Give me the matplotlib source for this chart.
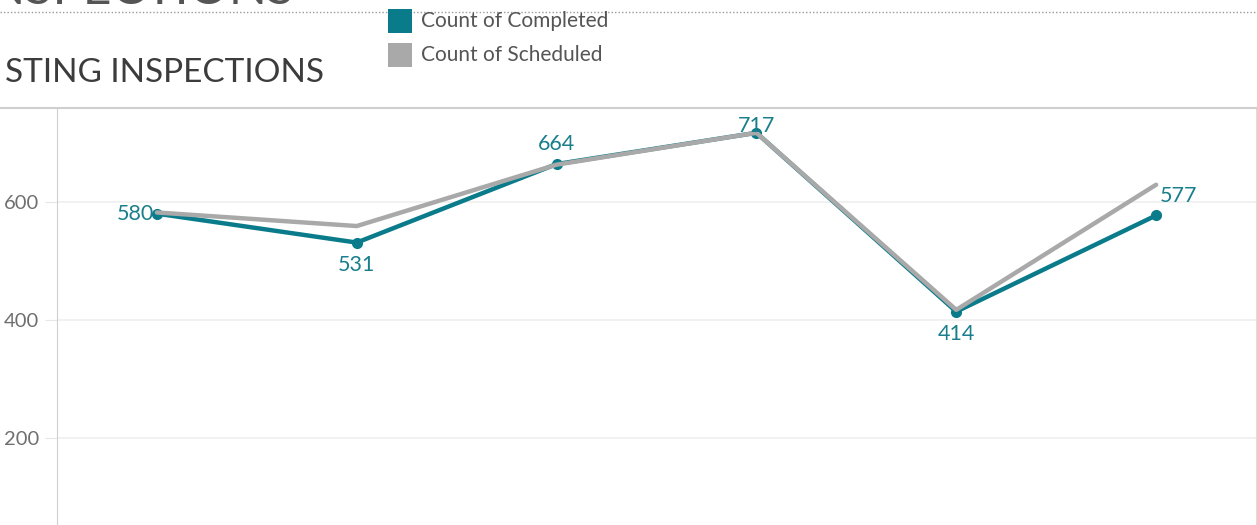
import matplotlib
matplotlib.use("Agg")
import matplotlib.pyplot as plt
from matplotlib.lines import Line2D
from matplotlib.patches import Rectangle

# Werte
periods = [0, 1, 2, 3, 4, 5]
completed = [580, 531, 664, 717, 414, 577]
scheduled = [582, 559, 663, 717, 417, 629]
yTicks = [200, 400, 600]
yTickLabels = ["200", "400", "600"]

teal = "#0a7b8a"
gray = "#a9a9a9"
labelColor = "#1a7f8c"

plt.rcParams["font.family"] = ["Lato", "DejaVu Sans"]

W, H = 1257, 525
fig = plt.figure(figsize=(W / 100, H / 100), dpi=100)

# Achse reicht unten ueber das Bild hinaus (abgeschnittener Dashboard-Ausschnitt)
axLeft, axTop, axRight, axBottom = 57, 108, 1256, 556
ax = fig.add_axes([axLeft / W, 1 - axBottom / H, (axRight - axLeft) / W, (axBottom - axTop) / H])
ax.set_xlim(-0.5, 5.5)
ax.set_ylim(0, 759)

ax.set_yticks(yTicks)
ax.set_yticklabels(yTickLabels, fontsize=14.5, color="#6f6f6f")
ax.tick_params(axis="y", length=9, color="#e6e6e6", pad=4)
ax.set_xticks([])
ax.grid(axis="y", color="#efefef", linewidth=1.2)
ax.set_axisbelow(True)
for side in ["top", "bottom"]:
    ax.spines[side].set_visible(False)
ax.spines["left"].set_color("#cfcfcf")
ax.spines["right"].set_color("#dcdcdc")

ax.plot(periods, completed, color=teal, linewidth=3.2, marker="o", markersize=7,
        solid_capstyle="round", zorder=3)
ax.plot(periods, scheduled, color=gray, linewidth=3.2, solid_capstyle="round", zorder=4)

# Datenbeschriftungen
offsets = [(-3, 0, "right", "center"), (0, -12, "center", "top"), (0, 10, "center", "bottom"),
           (0, -3, "center", "bottom"), (0, -12, "center", "top"), (4, 9, "left", "bottom")]
for x, y, (dx, dy, ha, va) in zip(periods, completed, offsets):
    ax.annotate(str(y), (x, y), xytext=(dx, dy), textcoords="offset pixels",
                ha=ha, va=va, fontsize=15.5, color=labelColor, zorder=5)

# Rahmenlinien des Dashboards
fig.add_artist(Line2D([0, 1], [1 - axTop / H, 1 - axTop / H], color="#cfcfcf", linewidth=1.5))
fig.add_artist(Line2D([0, 1], [1 - 12 / H, 1 - 12 / H], color="#9a9a9a", linewidth=1,
                      linestyle=(0, (1, 1.5))))

# abgeschnittener Haupttitel oben
fig.text(295 / W, 1 - 4 / H, "INSPECTIONS", ha="right", va="baseline", fontsize=36,
         color="#555555")

fig.text(5 / W, 1 - 73 / H, "STING INSPECTIONS", ha="left", va="center", fontsize=24,
         color="#3c3c3c")

# Legende
for i, (name, col) in enumerate([("Count of Completed", teal), ("Count of Scheduled", gray)]):
    top = 9 + i * 34
    fig.add_artist(Rectangle((388 / W, 1 - (top + 24) / H), 24 / W, 24 / H,
                             facecolor=col, edgecolor="none", zorder=10))
    fig.text(421 / W, 1 - (top + 12) / H, name, ha="left", va="center", fontsize=15,
             color="#555555")

fig.savefig("out.png", dpi=100)
